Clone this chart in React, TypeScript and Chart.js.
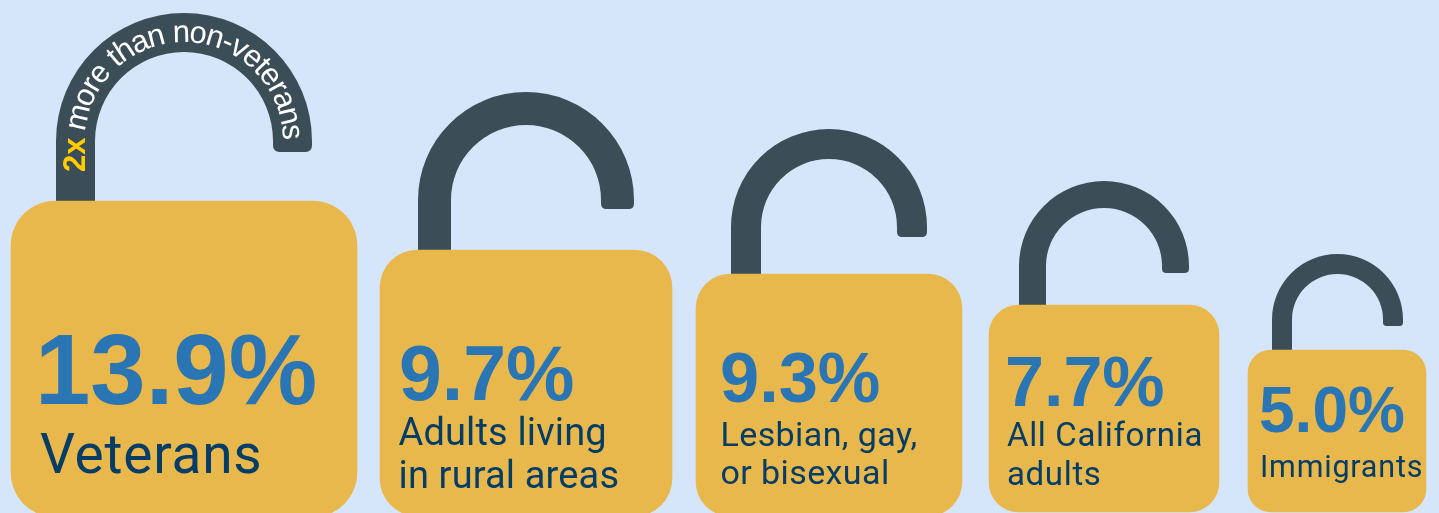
import React, { useEffect, useRef } from "react";
import { Chart, registerables } from "chart.js";

Chart.register(...registerables);

const WIDTH = 1439;
const HEIGHT = 513;

// Content
const groups = ["Veterans", "Adults living in rural areas", "Lesbian, gay, or bisexual", "All California adults", "Immigrants"];
const rates = [13.9, 9.7, 9.3, 7.7, 5.0];
const labelLines = [["Veterans"], ["Adults living", "in rural areas"], ["Lesbian, gay,", "or bisexual"], ["All California", "adults"], ["Immigrants"]];
const arcPrefix = "2x";
const arcText = " more than non-veterans";

// Lock bodies, in chart units
const bodyLeft = [11, 380, 696, 989, 1248];
const bodyRight = [357, 672, 962, 1219, 1426];
const bodyTop = [201, 250, 274, 305, 350];
const bodyBottom = [517, 516, 516, 512, 512];

// Shackles
const shackleCentre = [184, 526, 829, 1104, 1337.5];
const shackleTop = [13, 92, 129, 181, 254];
const shackleOuter = [128, 108, 98, 85, 65.5];
const shackleBar = [39, 33, 30, 27, 20];
const shackleEnd = [152, 209, 237, 273, 326];

// Text placement
const rateX = [35, 399, 720, 1005, 1259];
const rateBase = [404, 400, 402, 406, 432];
const rateSize = [99.5, 77, 70.4, 70, 64];
const labelX = [40, 398.5, 720.5, 1007, 1260];
const labelBase = [[473], [445, 488], [446, 484], [446, 485], [477]];
const labelSize = [55, 38, 34, 33, 30.5];
const labelSpacing = [0.75, 0.15, 0.4, 0.65, 0.8];

const BG = "#D5E6FB";
const BODY = "#E9B84C";
const SHACKLE = "#3B4D57";
const NUM = "#2A75B3";
const LABEL = "#053D66";
const GOLD = "#FFCC00";

const lockPlugin = {
  id: "locks",
  beforeDraw(chart: any) {
    const c = chart.ctx;
    c.save();
    c.fillStyle = BG;
    c.fillRect(0, 0, chart.width, chart.height);
    c.restore();
  },
  beforeDatasetsDraw(chart: any) {
    const c = chart.ctx;
    const { x, y } = chart.scales;
    groups.forEach((_, i) => {
      const cx = x.getPixelForValue(shackleCentre[i]);
      const R = shackleOuter[i];
      const top = y.getPixelForValue(shackleTop[i]);
      const cy = top + R;
      const r = R - shackleBar[i];
      const end = y.getPixelForValue(shackleEnd[i]);
      const base = y.getPixelForValue(bodyTop[i] + 10);
      const corner = shackleBar[i] * 0.17;
      c.save();
      c.fillStyle = SHACKLE;
      c.beginPath();
      c.moveTo(cx - R, base);
      c.lineTo(cx - R, cy);
      c.arc(cx, cy, R, Math.PI, 0, false);
      c.lineTo(cx + R, end - corner);
      c.quadraticCurveTo(cx + R, end, cx + R - corner, end);
      c.lineTo(cx + r + corner, end);
      c.quadraticCurveTo(cx + r, end, cx + r, end - corner);
      c.lineTo(cx + r, cy);
      c.arc(cx, cy, r, 0, Math.PI, true);
      c.lineTo(cx - r, base);
      c.closePath();
      c.fill();
      c.restore();
    });
  },
  afterDatasetsDraw(chart: any) {
    const c = chart.ctx;
    const { x, y } = chart.scales;
    c.save();
    c.textAlign = "left";
    c.textBaseline = "alphabetic";
    groups.forEach((_, i) => {
      c.fillStyle = NUM;
      c.letterSpacing = "0px";
      c.font = `bold ${rateSize[i]}px "Liberation Sans"`;
      c.fillText(`${rates[i].toFixed(1)}%`, x.getPixelForValue(rateX[i]), y.getPixelForValue(rateBase[i]));
      c.fillStyle = LABEL;
      c.font = `${labelSize[i]}px Roboto`;
      c.letterSpacing = `${labelSpacing[i]}px`;
      labelLines[i].forEach((line, j) => {
        c.fillText(line, x.getPixelForValue(labelX[i]), y.getPixelForValue(labelBase[i][j]));
      });
    });
    c.letterSpacing = "0px";
    // Text running along the first shackle
    const cx = x.getPixelForValue(shackleCentre[0]);
    const cy = y.getPixelForValue(shackleTop[0]) + shackleOuter[0];
    const baseR = 99;
    const startY = 172;
    const tracking = 0.91;
    const place = (ch: string, s: number, w: number) => {
      const mid = s + w / 2;
      const straight = startY - cy;
      let px: number, py: number, rot: number;
      if (mid < straight) {
        px = cx - baseR;
        py = startY - mid;
        rot = -Math.PI / 2;
      } else {
        const a = (mid - straight) / baseR;
        px = cx - baseR * Math.cos(a);
        py = cy - baseR * Math.sin(a);
        rot = -Math.PI / 2 + a;
      }
      c.save();
      c.translate(px, py);
      c.rotate(rot);
      c.textAlign = "center";
      c.fillText(ch, 0, 0);
      c.restore();
    };
    const drawRun = (text: string, font: string, color: string, from: number, track: number) => {
      c.font = font;
      c.fillStyle = color;
      for (let k = 0; k < text.length; k++) {
        const before = c.measureText(text.slice(0, k)).width * track;
        const w = c.measureText(text[k]).width * track;
        place(text[k], from + before, w);
      }
      return from + c.measureText(text).width * track;
    };
    const afterPrefix = drawRun(arcPrefix, `bold 31px "Liberation Sans"`, GOLD, 0, 1);
    drawRun(arcText, `31px "Liberation Sans"`, "#FFFFFF", afterPrefix - 1, tracking);
    c.restore();
  },
};

export default function App() {
  const ref = useRef<HTMLCanvasElement | null>(null);
  useEffect(() => {
    const canvas = ref.current;
    if (!canvas) return;
    const chart = new Chart(canvas, {
      type: "bar",
      data: {
        datasets: groups.map((g, i) => ({
          label: g,
          data: [{ x: (bodyLeft[i] + bodyRight[i]) / 2, y: [bodyTop[i], bodyBottom[i]] }],
          backgroundColor: BODY,
          borderWidth: 0,
          borderSkipped: false,
          borderRadius: (bodyRight[i] - bodyLeft[i]) * 0.13,
          barThickness: bodyRight[i] - bodyLeft[i],
          grouped: false,
        })),
      } as any,
      options: {
        animation: false,
        responsive: false,
        devicePixelRatio: 1,
        layout: { padding: 0 },
        plugins: { legend: { display: false }, tooltip: { enabled: false } },
        scales: {
          x: { type: "linear", min: 0, max: WIDTH, display: false, offset: false, grid: { offset: false } },
          y: { type: "linear", min: 0, max: HEIGHT, reverse: true, display: false },
        },
      } as any,
      plugins: [lockPlugin],
    });
    return () => chart.destroy();
  }, []);
  return (
    <canvas
      ref={ref}
      width={WIDTH}
      height={HEIGHT}
      style={{ position: "fixed", left: 0, top: 0, width: WIDTH, height: HEIGHT, display: "block" }}
    />
  );
}
